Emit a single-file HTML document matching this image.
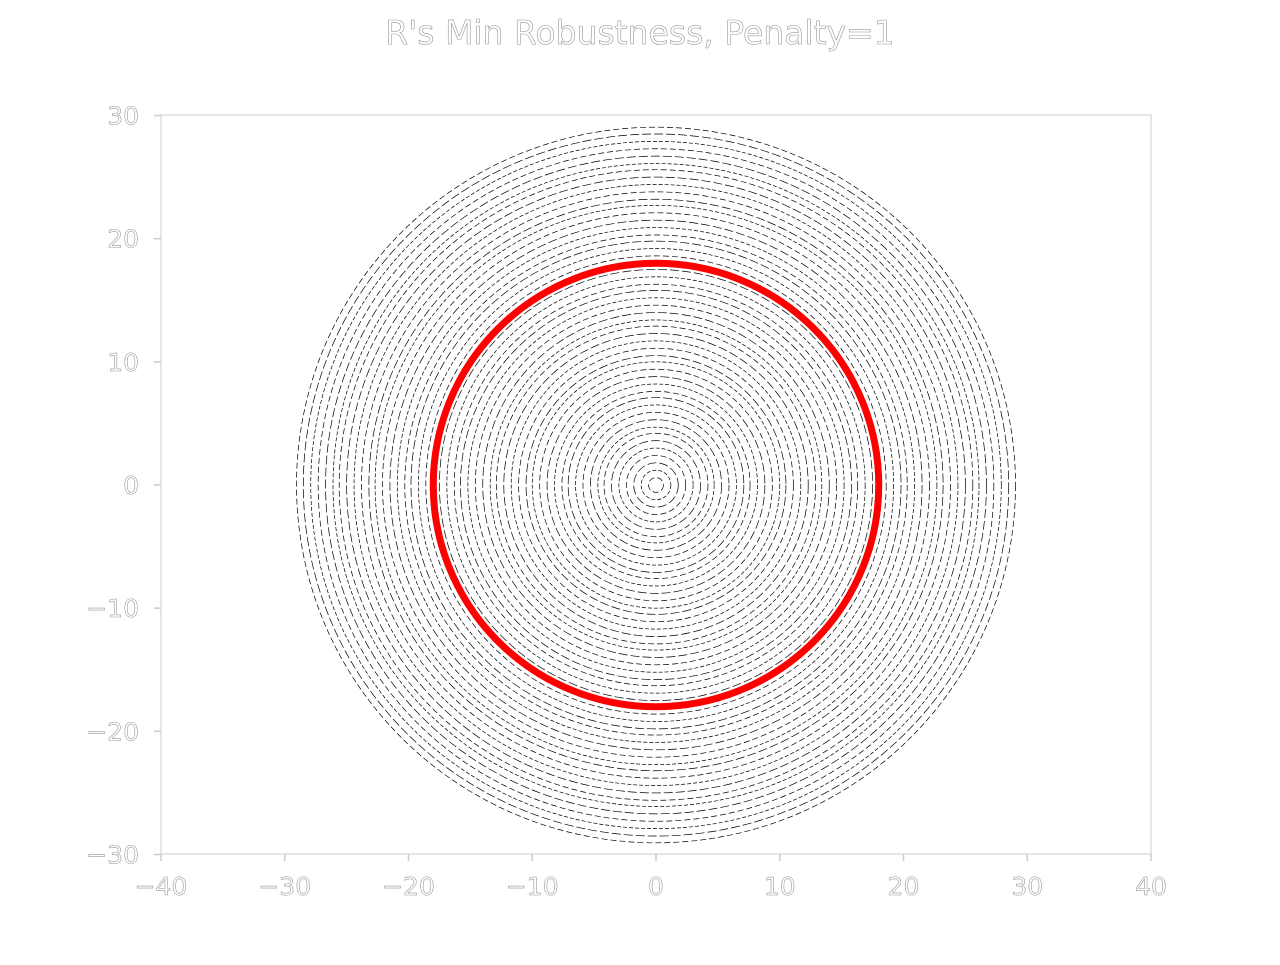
<!DOCTYPE html>
<html><head><meta charset="utf-8"><style>
html,body{margin:0;padding:0;background:#fff;}
svg text{font-family:"DejaVu Sans","Liberation Sans",sans-serif;fill:#fff;stroke:#999;stroke-width:0.6;}
</style></head><body>
<svg id="chart" width="1280" height="960" viewBox="0 0 1280 960" xmlns="http://www.w3.org/2000/svg">
<rect x="0" y="0" width="1280" height="960" fill="#fff"/>
<text x="640" y="44" font-size="33" text-anchor="middle">R's Min Robustness, Penalty=1</text>
<g id="marks"></g>
<rect x="161" y="115" width="990" height="739" fill="none" stroke="#ddd" stroke-width="1.5"/>
<g id="axes"></g>
</svg>
<script>
const xTicks=[-40,-30,-20,-10,0,10,20,30,40];
const yTicks=[-30,-20,-10,0,10,20,30];
const contourRadii=[0.6,1.2,1.8,2.4,3.0,3.6,4.2,4.7,5.3,5.9,6.5,7.1,7.6,8.2,8.8,9.4,10.0,10.5,11.1,11.7,12.3,12.9,13.4,14.0,14.6,15.2,15.8,16.3,16.9,17.5,18.6,19.2,19.8,20.3,20.9,21.5,22.1,22.7,23.2,23.8,24.4,25.0,25.6,26.1,26.7,27.3,27.9,28.5,29.05];
const highlightRadius=[18];
const sx=v=>656+v*12.375, sy=v=>485-v*12.317;
const NS="http://www.w3.org/2000/svg";
const marks=document.getElementById('marks'), axes=document.getElementById('axes');
contourRadii.forEach((r,i)=>{
  const e=document.createElementNS(NS,'ellipse');
  e.setAttribute('cx',sx(0));e.setAttribute('cy',sy(0));
  e.setAttribute('rx',sx(r)-sx(0));e.setAttribute('ry',sy(0)-sy(r));
  e.setAttribute('fill','none');e.setAttribute('stroke','#000');e.setAttribute('stroke-width','0.7');
  e.setAttribute('stroke-dasharray',(i%3==0)?'6,3':(i%3==1)?'4,2':'9,3');
  
  
  marks.appendChild(e);
});
highlightRadius.forEach(r=>{
  const e=document.createElementNS(NS,'ellipse');
  e.setAttribute('cx',sx(0));e.setAttribute('cy',sy(0));
  e.setAttribute('rx',sx(r)-sx(0));e.setAttribute('ry',sy(0)-sy(r));
  e.setAttribute('fill','none');e.setAttribute('stroke','#f00');e.setAttribute('stroke-width','7');
  
  
  marks.appendChild(e);
});
xTicks.forEach(v=>{
  const l=document.createElementNS(NS,'line');
  l.setAttribute('x1',sx(v));l.setAttribute('x2',sx(v));l.setAttribute('y1',854);l.setAttribute('y2',861);
  l.setAttribute('stroke','#ccc');l.setAttribute('stroke-width','1.5');
  
  
  axes.appendChild(l);
  const t=document.createElementNS(NS,'text');
  t.setAttribute('x',sx(v));t.setAttribute('y',895);t.setAttribute('font-size','25');t.setAttribute('text-anchor','middle');
  t.textContent=v<0?'\u2212'+(-v):String(v);
  
  
  axes.appendChild(t);
});
yTicks.forEach(v=>{
  const l=document.createElementNS(NS,'line');
  l.setAttribute('x1',154);l.setAttribute('x2',161);l.setAttribute('y1',sy(v));l.setAttribute('y2',sy(v));
  l.setAttribute('stroke','#ccc');l.setAttribute('stroke-width','1.5');
  
  
  axes.appendChild(l);
  const t=document.createElementNS(NS,'text');
  t.setAttribute('x',139);t.setAttribute('y',sy(v)+9);t.setAttribute('font-size','25');t.setAttribute('text-anchor','end');
  t.textContent=v<0?'\u2212'+(-v):String(v);
  
  
  axes.appendChild(t);
});
</script>
</body></html>
